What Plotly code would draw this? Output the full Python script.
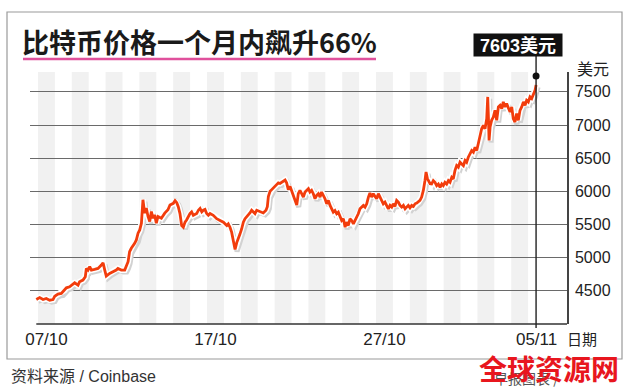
import plotly.graph_objects as go

# ---------------- data ----------------
# days since 07/10 00:00
day = [-0.10, 0.10, 0.30, 0.49, 0.69, 0.89, 0.99, 1.18, 1.38, 1.58, 1.68, 1.87, 2.07, 2.17,
       2.37, 2.46, 2.66, 2.80, 2.86, 2.96, 3.06, 3.16, 3.35, 3.55, 3.75, 3.85, 3.95, 4.04,
       4.24, 4.44, 4.63, 4.73, 4.93, 5.13, 5.23, 5.33, 5.42, 5.52, 5.72, 5.82, 5.92, 6.02,
       6.12, 6.21, 6.31, 6.41, 6.51, 6.61, 6.71, 6.80, 6.90, 7.00, 7.10, 7.30, 7.50, 7.69,
       7.81, 8.01, 8.11, 8.21, 8.30, 8.40, 8.50, 8.60, 8.70, 8.80, 8.99, 9.09, 9.19, 9.39,
       9.49, 9.59, 9.69, 9.78, 9.88, 9.98, 10.08, 10.18, 10.37, 10.57, 10.77, 10.97, 11.17,
       11.26, 11.36, 11.46, 11.56, 11.66, 11.76, 11.85, 11.95, 12.05, 12.15, 12.25, 12.35,
       12.45, 12.54, 12.64, 12.74, 12.84, 12.94, 13.14, 13.33, 13.49, 13.57, 13.63, 13.73,
       13.83, 13.92, 14.02, 14.12, 14.22, 14.32, 14.52, 14.62, 14.71, 14.81, 14.91, 15.01,
       15.11, 15.21, 15.31,
       15.40, 15.50, 15.60, 15.70, 15.80, 15.90, 16.00, 16.09, 16.19, 16.29, 16.39, 16.49,
       16.59, 16.69, 16.78, 16.88, 16.98, 17.08, 17.18, 17.28, 17.38, 17.47, 17.57, 17.67,
       17.77, 17.87, 17.97, 18.07, 18.17, 18.26, 18.36, 18.46, 18.56, 18.66, 18.76, 18.86,
       18.95, 19.05, 19.15, 19.25, 19.35, 19.45, 19.55, 19.64, 19.74, 19.84, 19.94, 20.04,
       20.14, 20.24, 20.33, 20.43, 20.53, 20.63, 20.73, 20.83, 20.93, 21.02, 21.12, 21.22,
       21.32, 21.42, 21.52, 21.62, 21.72, 21.81, 21.91, 22.01, 22.11, 22.21, 22.31, 22.41,
       22.50, 22.60, 22.70, 22.80, 22.90, 22.96, 23.04, 23.10, 23.20,
       23.29, 23.39, 23.49, 23.59, 23.69, 23.79, 23.89, 23.98, 24.08, 24.18, 24.28, 24.38,
       24.48, 24.57, 24.67, 24.77, 24.87, 24.97, 25.07, 25.17, 25.27, 25.36, 25.46, 25.56,
       25.66, 25.76, 25.86, 25.96, 26.05, 26.15, 26.25, 26.35, 26.45, 26.55, 26.61, 26.65,
       26.69, 26.75, 26.84, 26.94, 27.04, 27.14, 27.24, 27.34, 27.44, 27.53, 27.63, 27.73,
       27.83, 27.93, 28.03, 28.12, 28.22, 28.32, 28.42, 28.52, 28.62, 28.72, 28.82, 28.91,
       29.01, 29.11, 29.21, 29.31, 29.41, 29.47]

price = [4369, 4399, 4369, 4384, 4359, 4369, 4419, 4450, 4460, 4510, 4546, 4561, 4611, 4621,
         4586, 4637, 4662, 4712, 4838, 4813, 4864, 4813, 4823, 4838, 4889, 4924, 4813, 4722,
         4763, 4788, 4813, 4838, 4813, 4813, 4864, 4940, 5091, 5142, 5217, 5268, 5369, 5419,
         5520, 5874, 5672, 5748, 5621, 5546, 5697, 5596, 5647, 5520, 5621, 5596, 5672, 5722,
         5794, 5820, 5861, 5830, 5768, 5665, 5485, 5459, 5536, 5572, 5665, 5691, 5639, 5665,
         5716, 5742, 5691, 5716, 5727, 5665, 5639, 5665, 5639, 5588, 5562, 5536, 5485,
         5510, 5459, 5381, 5253, 5124, 5227, 5304, 5356, 5433, 5536, 5588, 5613,
         5639, 5675, 5716, 5691, 5665, 5716, 5691, 5675, 5716, 5768, 5923, 6000,
         6026, 6052, 6077, 6103, 6129, 6119, 6155, 6170, 6129, 6026, 6077, 6000,
         5948, 5871, 5794,
         5965, 6015, 5965, 5914, 5990, 6015, 6040, 5990, 6015, 5965, 5889, 5939,
         5965, 5914, 5990, 5939, 5889, 5813, 5864, 5788, 5737, 5687, 5712, 5662,
         5687, 5611, 5561, 5586, 5460, 5535, 5485, 5586, 5561, 5510, 5561, 5611,
         5662, 5737, 5763, 5788, 5763, 5813, 5914, 5975, 5914, 5965, 5924, 5889,
         5965, 5914, 5864, 5813, 5838, 5788, 5737, 5788, 5763, 5813, 5773, 5864,
         5838, 5788, 5763, 5788, 5737, 5763, 5788, 5753, 5788, 5773, 5813, 5823,
         5838, 5864, 5914, 6015, 6167, 6293, 6192, 6167, 6116,
         6111, 6162, 6137, 6086, 6111, 6061, 6111, 6086, 6137, 6111, 6162, 6137,
         6212, 6187, 6313, 6389, 6364, 6440, 6414, 6389, 6465, 6440, 6515, 6566,
         6616, 6591, 6667, 6616, 6717, 6818, 6944, 6995, 6944, 7096, 7424, 7121,
         6768, 6970, 7071, 7121, 7222, 7071, 7273, 7298, 7248, 7349, 7273, 7323,
         7248, 7197, 7273, 7096, 7046, 7172, 7071, 7222, 7273, 7349, 7298, 7374,
         7349, 7424, 7399, 7450, 7525, 7603]

tick_days = [0.5, 10.5, 20.5, 29.5]
tick_labels = ["07/10", "17/10", "27/10", "05/11"]
y_ticks = [4500, 5000, 5500, 6000, 6500, 7000, 7500]

title_text = "比特币价格一个月内飙升66%"
callout_text = "7603美元"
unit_y = "美元"
unit_x = "日期"
source_text = "资料来源 / Coinbase"

# ---------------- layout helpers ----------------
W, H = 631, 392
ML, MR, MT, MB = 30, 64, 72, 68
PW, PH = W - ML - MR, H - MT - MB
X_RANGE = [-0.473, 31.30]
Y_RANGE = [4000, 7800]

LATIN = "Liberation Sans, Arial, Noto Sans CJK SC, sans-serif"
CJK = "Noto Sans CJK SC, Liberation Sans, sans-serif"


def px(x):
    return (x - ML) / PW


def py(y):
    return (H - MB - y) / PH


fig = go.Figure()

# shadow + halo + line
x_off = 2.0 * (X_RANGE[1] - X_RANGE[0]) / PW
y_off = 2.0 * (Y_RANGE[1] - Y_RANGE[0]) / PH
fig.add_trace(go.Scatter(x=[d + x_off for d in day], y=[p - y_off for p in price],
                         mode="lines", line=dict(color="#d2d2d2", width=5),
                         hoverinfo="skip", showlegend=False))
fig.add_trace(go.Scatter(x=day, y=price, mode="lines",
                         line=dict(color="#ffffff", width=6),
                         hoverinfo="skip", showlegend=False))
fig.add_trace(go.Scatter(x=day, y=price, mode="lines",
                         line=dict(color="#f23c0c", width=2.8),
                         showlegend=False))

shapes = []
# alternating day stripes
for d in range(0, 29, 2):
    shapes.append(dict(type="rect", xref="x", yref="paper", x0=d, x1=d + 1, y0=0, y1=1,
                       fillcolor="#f1f1f1", line=dict(width=0), layer="below"))
# bottom axis line
shapes.append(dict(type="line", xref="x", yref="paper", x0=day[0], x1=X_RANGE[1],
                   y0=0, y1=0, line=dict(color="#333333", width=1.5)))
# callout vertical line
last_d, last_p = day[-1], price[-1]
shapes.append(dict(type="line", xref="x", yref="paper", x0=last_d, x1=last_d,
                   y0=py(328), y1=py(56), line=dict(color="#222222", width=1.4)))
# callout dot
shapes.append(dict(type="circle", xref="x", yref="y", xsizemode="pixel", ysizemode="pixel",
                   xanchor=last_d, yanchor=last_p, x0=-3.5, x1=3.5, y0=5.5, y1=12.5,
                   fillcolor="#111111", line=dict(width=0)))
# frame
shapes.append(dict(type="rect", xref="paper", yref="paper", x0=px(7), x1=px(622),
                   y0=py(359), y1=py(12), line=dict(color="#9a9a9a", width=1.2)))
# pink underline
shapes.append(dict(type="line", xref="paper", yref="paper", x0=px(23), x1=px(376),
                   y0=py(59), y1=py(59), line=dict(color="#e0509c", width=2.5)))

annotations = [
    dict(text="<b>" + title_text + "</b>", xref="paper", yref="paper", x=px(20), y=py(41),
         xanchor="left", yanchor="middle", showarrow=False,
         font=dict(family=CJK, size=27, color="#1a1a1a")),
    dict(text="<b>" + callout_text + "</b>", xref="x", yref="paper", x=last_d, y=py(45.5),
         xanchor="center", yanchor="middle", xshift=-18, showarrow=False,
         bgcolor="#111111", width=88, height=22, borderpad=0,
         font=dict(family=LATIN, size=18, color="#ffffff")),
    dict(text=unit_y, xref="paper", yref="paper", x=px(575), y=py(68),
         xanchor="left", yanchor="middle", showarrow=False,
         font=dict(family=CJK, size=16, color="#222222")),
    dict(text=unit_x, xref="paper", yref="paper", x=px(565), y=py(338),
         xanchor="left", yanchor="middle", showarrow=False,
         font=dict(family=CJK, size=15, color="#222222")),
    dict(text=source_text, xref="paper", yref="paper", x=px(9), y=py(376),
         xanchor="left", yanchor="middle", showarrow=False,
         font=dict(family=LATIN, size=16, color="#333333")),
    dict(text="早报图表 /", xref="paper", yref="paper", x=px(492), y=py(378),
         xanchor="left", yanchor="middle", showarrow=False,
         font=dict(family=CJK, size=14, color="#555555")),
    dict(text="<b>全球资源网</b>", xref="paper", yref="paper", x=px(549), y=py(368),
         xanchor="center", yanchor="middle", showarrow=False,
         font=dict(family=CJK, size=28, color="#e8161e")),
]

fig.update_layout(
    width=W, height=H, margin=dict(l=ML, r=MR, t=MT, b=MB),
    paper_bgcolor="#ffffff", plot_bgcolor="#ffffff",
    shapes=shapes, annotations=annotations, showlegend=False,
    xaxis=dict(range=X_RANGE, tickvals=tick_days, ticktext=tick_labels,
               showgrid=False, zeroline=False, showline=False, ticks="",
               ticklabelstandoff=3,
               tickfont=dict(family=LATIN, size=17, color="#222222")),
    yaxis=dict(range=Y_RANGE, tickvals=y_ticks, side="right",
               showgrid=True, gridcolor="#6a6a6a", gridwidth=1.2,
               zeroline=False, showline=True, linecolor="#444444", linewidth=1.5,
               ticks="", ticklabelstandoff=3,
               tickfont=dict(family=LATIN, size=16, color="#222222")),
)

fig.write_html("out.html", config={"displayModeBar": False},
               post_script="document.body.style.margin='0';document.body.style.padding='0';"
                           "document.body.style.overflow='hidden';")
